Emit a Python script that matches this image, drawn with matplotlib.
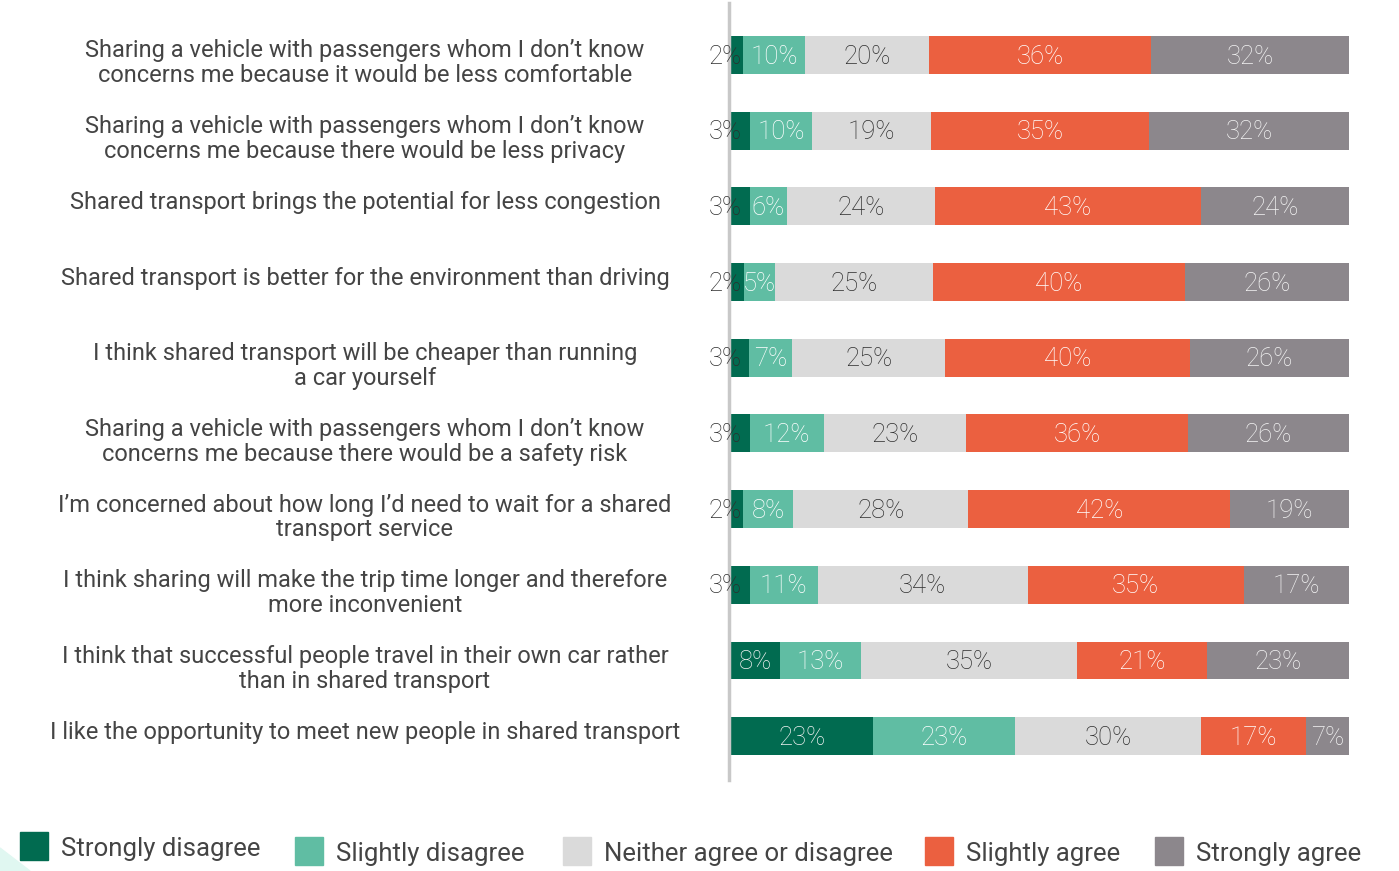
import matplotlib
matplotlib.use("Agg")
import matplotlib.pyplot as plt
from matplotlib.patches import Rectangle, Polygon

# Survey statements (top to bottom)
statements = [
    "Sharing a vehicle with passengers whom I don\u2019t know\nconcerns me because it would be less comfortable",
    "Sharing a vehicle with passengers whom I don\u2019t know\nconcerns me because there would be less privacy",
    "Shared transport brings the potential for less congestion",
    "Shared transport is better for the environment than driving",
    "I think shared transport will be cheaper than running\na car yourself",
    "Sharing a vehicle with passengers whom I don\u2019t know\nconcerns me because there would be a safety risk",
    "I\u2019m concerned about how long I\u2019d need to wait for a shared\ntransport service",
    "I think sharing will make the trip time longer and therefore\nmore inconvenient",
    "I think that successful people travel in their own car rather\nthan in shared transport",
    "I like the opportunity to meet new people in shared transport",
]

responses = ["Strongly disagree", "Slightly disagree", "Neither agree or disagree",
             "Slightly agree", "Strongly agree"]

strongly_disagree = [2, 3, 3, 2, 3, 3, 2, 3, 8, 23]
slightly_disagree = [10, 10, 6, 5, 7, 12, 8, 11, 13, 23]
neither = [20, 19, 24, 25, 25, 23, 28, 34, 35, 30]
slightly_agree = [36, 35, 43, 40, 40, 36, 42, 35, 21, 17]
strongly_agree = [32, 32, 24, 26, 26, 26, 19, 17, 23, 7]

series = [strongly_disagree, slightly_disagree, neither, slightly_agree, strongly_agree]
colors = ["#016b50", "#60bda3", "#dadada", "#eb6040", "#8c878c"]
text_colors = ["#f2f2f2", "#ffffff", "#2e2e2e", "#ffffff", "#f4f4f4"]

W, H = 1399, 871
fig = plt.figure(figsize=(W / 100, H / 100), dpi=100)
fig.patch.set_facecolor("white")

plt.rcParams["font.family"] = ["Roboto", "DejaVu Sans"]
TXT = "#444444"

# Axes spanning the bar area (share of responses, 0-100 %)
x0, x1 = 731, 1349
y_top, y_bot = 3, 780
ax = fig.add_axes([x0 / W, 1 - y_bot / H, (x1 - x0) / W, (y_bot - y_top) / H])
n = len(statements)
ax.set_xlim(0, 100)
ax.set_ylim(9.58, -0.687)

for i in range(n):
    total = sum(vals[i] for vals in series)
    left = 0
    for k, vals in enumerate(series):
        v = vals[i]
        w = v * 100 / total
        ax.barh(i, w, left=left, height=0.5, color=colors[k], edgecolor="none")
        if v < 4:
            ax.text(1.7, i + 0.02, f"{v}%", ha="right", va="center", fontsize=18.5,
                    color="#2e2e2e", fontweight="light")
        else:
            ax.text(left + w / 2, i + 0.02, f"{v}%", ha="center", va="center",
                    fontsize=18.5, color=text_colors[k], fontweight="light")
        left += w

ax.set_xticks([])
ax.set_yticks([])
for s in ["top", "right", "bottom"]:
    ax.spines[s].set_visible(False)
ax.spines["left"].set_color("#c8c8c8")
ax.spines["left"].set_linewidth(2.5)
ax.spines["left"].set_position(("data", -0.3))

# Statement labels, centred in the left column
for i, s in enumerate(statements):
    yc = 55 + i * 75.67
    fig.text(365 / W, 1 - (yc - 15.5) / H, s, ha="center", va="top", fontsize=17,
             color=TXT, linespacing=1.1)

# Legend
legend_items = [(20, 832), (295, 837), (563, 837), (925, 837), (1155, 837)]
for (lx, ly), lab, c in zip(legend_items, responses, colors):
    fig.patches.append(Rectangle((lx / W, 1 - (ly + 28) / H), 28 / W, 28 / H,
                                 transform=fig.transFigure, color=c, zorder=2))
    fig.text((lx + 41) / W, 1 - (ly + 17) / H, lab, ha="left", va="center",
             fontsize=18.5, color=TXT)

# Corner accent
fig.patches.append(Polygon([(0, 1 - 848 / H), (30 / W, 0), (0, 0)], closed=True,
                           transform=fig.transFigure, color="#e0f7f1", zorder=1))

fig.savefig("out.png", dpi=100)
